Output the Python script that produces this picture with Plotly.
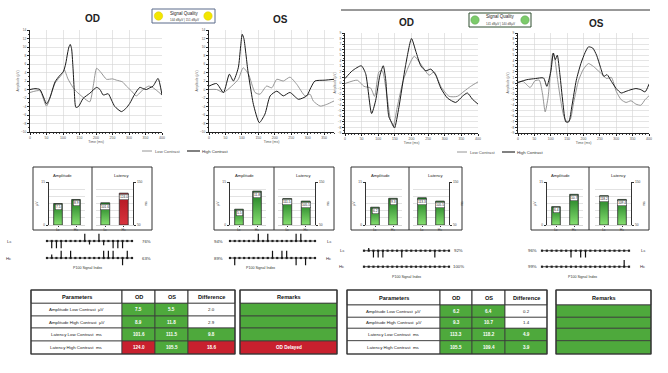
import plotly.graph_objects as go

W, H = 668, 373
FONT = "Liberation Sans, Arial, sans-serif"

# ---------------- data ----------------
# Waveforms: time (ms) and amplitude (uV)
L_OD_hc_t = [0, 15, 30, 42, 50, 60, 76, 90, 101, 108, 114, 118, 122, 126, 130, 134, 139, 147, 161, 181, 202, 212, 222, 237, 247, 257, 277, 290, 302, 318, 333, 343, 353, 363, 373, 388, 400]
L_OD_hc_v = [0.0, 0.2, 0.0, -2.0, -3.4, -2.0, 1.8, 3.3, 4.2, 6.0, 8.6, 10.0, 10.6, 9.6, 5.5, 0.0, -4.2, -4.0, -2.1, -0.9, 0.5, 0.0, -1.3, -1.0, -2.5, -4.0, -5.2, -4.5, -3.3, -1.0, 0.5, 0.2, 0.0, 0.4, 0.8, 2.6, -1.3]
L_OD_lc_t = [0, 30, 50, 76, 96, 104, 115, 130, 141, 160, 181, 192, 202, 215, 232, 250, 262, 280, 292, 307, 322, 343, 360, 373, 385, 400]
L_OD_lc_v = [-0.7, -0.3, -3.9, 1.5, 3.5, 4.6, 2.5, 0.5, -0.5, -1.8, -2.9, 1.0, 5.0, 4.0, 2.4, 2.5, 2.2, 1.8, 0.8, -0.3, -1.5, 0.0, 0.8, 0.4, -0.3, -1.3]

L_OS_hc_t = [0, 23, 44, 62, 74, 89, 96, 101, 106, 112, 118, 125, 135, 153, 170, 186, 206, 226, 246, 272, 297, 310, 322, 353, 380]
L_OS_hc_v = [0.8, 1.4, -0.7, 3.6, 2.0, 5.1, 10.0, 13.0, 12.0, 8.5, 4.5, 1.0, -3.5, -7.8, -5.8, -1.5, -0.4, -1.5, -0.7, -2.3, -1.5, 0.5, 2.0, 2.2, 2.4]
L_OS_lc_t = [0, 23, 44, 69, 89, 104, 120, 140, 155, 175, 191, 206, 226, 246, 267, 292, 307, 317, 338, 358, 380]
L_OS_lc_v = [0.0, 0.0, -0.7, 0.8, 2.4, 5.1, 3.6, -0.7, -1.1, 0.8, 0.4, 2.4, 2.0, 2.9, 1.2, -1.5, -1.1, -2.7, -3.9, -3.5, -2.7]

R_OD_hc_t = [0, 22, 49, 62, 80, 92, 105, 115, 122, 132, 142, 149, 162, 182, 200, 213, 228, 243, 258, 273, 288, 308, 333, 353, 368, 383, 400]
R_OD_hc_v = [0.8, 2.2, 3.1, 1.7, -5.5, -3.2, 1.4, 3.1, 0.8, -6.1, -7.3, -8.1, -4.4, 3.1, 8.0, 5.7, 3.1, 2.2, 2.5, 1.4, -0.9, -2.7, -3.5, -2.4, -1.8, -2.9, -3.8]
R_OD_lc_t = [0, 37, 57, 77, 89, 102, 112, 127, 137, 145, 157, 177, 208, 228, 253, 268, 288, 313, 338, 358, 378, 400]
R_OD_lc_v = [-0.1, 0.5, -0.6, -0.9, -2.4, 2.0, 2.2, -2.7, -6.7, -7.8, -4.4, 0.8, 4.8, 3.4, 1.4, 2.0, -0.6, -2.4, -2.4, -1.5, -0.6, 0.2]

R_OS_hc_t = [0, 27, 53, 78, 88, 100, 108, 114, 120, 128, 137, 146, 155, 165, 178, 192, 205, 215, 228, 240, 252, 262, 272, 285, 300, 315, 330, 345, 360, 375, 388, 400]
R_OS_hc_v = [0.1, 0.6, 0.8, 0.9, -0.6, 2.0, 5.4, 4.2, 5.0, 1.5, -3.5, -7.0, -7.0, -4.0, 0.5, 3.5, 5.5, 6.5, 6.3, 5.0, 2.8, 1.2, 1.5, 0.3, -1.0, -1.8, -1.5, -1.2, -1.0, -1.2, -1.6, -0.2]
R_OS_lc_t = [0, 15, 37, 52, 65, 75, 83, 92, 100, 106, 112, 120, 130, 140, 150, 160, 170, 185, 200, 215, 230, 245, 258, 270, 285, 300, 315, 330, 345, 360, 375, 388, 400]
R_OS_lc_v = [0.1, 0.3, -0.8, 0.4, 0.5, -2.0, -5.2, -2.5, 2.5, 5.3, 4.5, 1.0, -3.0, -6.0, -7.0, -6.5, -3.5, 0.5, 2.5, 3.5, 3.0, 2.2, 1.5, 0.8, 1.0, -1.5, -3.0, -3.5, -3.2, -3.8, -4.0, -3.0, -2.3]

# Table data
params = ["Amplitude Low Contrast  µV", "Amplitude High Contrast  µV",
          "Latency Low Contrast  ms", "Latency High Contrast  ms"]
col_heads = ["Parameters", "OD", "OS", "Difference"]
L_od = [7.5, 8.9, 101.6, 124.0]
L_os = [5.5, 11.8, 111.5, 105.5]
L_diff = [2.0, 2.9, 9.8, 18.6]
L_od_flag = ["g", "g", "g", "r"]
L_os_flag = ["g", "g", "g", "g"]
L_diff_flag = ["w", "w", "g", "r"]
L_remarks = ["", "", "", "OD Delayed"]
L_rem_flag = ["g", "g", "g", "r"]

R_od = [6.2, 9.3, 113.3, 105.5]
R_os = [6.4, 10.7, 118.2, 109.4]
R_diff = [0.2, 1.4, 4.9, 3.9]
R_od_flag = ["g", "g", "g", "g"]
R_os_flag = ["g", "g", "g", "g"]
R_diff_flag = ["w", "w", "g", "g"]
R_remarks = ["", "", "", ""]
R_rem_flag = ["g", "g", "g", "g"]

bar_cats = ["Lc", "Hc"]

# P100 signal index strips (+ up tick, - down tick, 0 dot)
L_OD_sig_lc = [0, -1, -1, -1, 0, 0, 0, 0, 1, -0.5, 0, 1, -0.6, 0, -1, -1, -1, 0, 0]
L_OD_sig_hc = [0, 0.5, 0, 1, 0, 1, 0, 0, 0, 0, 0, 0, 1, 1, 1, 0, -1, 1, 0]
L_OS_sig_lc = [0, 0, 0, 0, 0, 0, 1, 0, 1, 0, 0, 0, 0, 0, 1, 1, 0, 0, 0]
L_OS_sig_hc = [0, -1, 0, 0, 0, 0, 0, 0, 0, 1, 0, 1, 1, 0, -1, 0, -1, 0, 0]
R_OD_sig_lc = [0, 0.4, -1, -1, -1, 0, 0, 0, -1, 0, 0, 0, 0, 0, 0, -1, 0, 0, 0]
R_OD_sig_hc = [0, 0, 0, 0, 0, 0, 0, 0, 0, 0, 0, 0, 0, 0, 0, 0, 0, 0, 0]
R_OS_sig_lc = [0, 0, 0, 0, 0, 0, -1, 0, -1, -1, 0, 0, 0, 0, 0, 0, 0, 0, 0]
R_OS_sig_hc = [0, 0, 0, 0, 0, 0, 0, 0, 0, 0, 0, 0, 0, 0, 0, 0, 0, 1, 0]
sig_pct = {"L_OD": ("76%", "63%"), "L_OS": ("94%", "89%"),
           "R_OD": ("92%", "100%"), "R_OS": ("96%", "99%")}

L_quality = "144 dBµV | 151 dBµV"
R_quality = "141 dBµV | 140 dBµV"

# ---------------- styles ----------------
GREEN = "#4ea93c"
RED = "#c8202e"
FLAG = {"g": GREEN, "r": RED, "w": "white"}
LC_COLOR = "#8a8a8a"
HC_COLOR = "#1a1a1a"

fig = go.Figure()
layout = {}
annotations = []
shapes = []
count = [0]


def new_axes(x0, x1, y0, y1, xa, ya):
    count[0] += 1
    n = count[0]
    s = "" if n == 1 else str(n)
    xa = dict(xa)
    ya = dict(ya)
    xa.update(domain=[x0 / W, x1 / W], anchor="y" + s)
    ya.update(domain=[1 - y1 / H, 1 - y0 / H], anchor="x" + s)
    layout["xaxis" + s] = xa
    layout["yaxis" + s] = ya
    return "x" + s, "y" + s


def ann(x, y, text, size=4.5, color="#222", bold=False, xanchor="center",
        yanchor="middle", textangle=0):
    annotations.append(dict(x=x / W, y=1 - y / H, xref="paper", yref="paper",
                            text=f"<b>{text}</b>" if bold else text, showarrow=False,
                            font=dict(size=size, color=color, family=FONT),
                            xanchor=xanchor, yanchor=yanchor, textangle=textangle,
                            borderpad=0))


def rect(x0, y0, x1, y1, line="#333", fill=None, width=1):
    shapes.append(dict(type="rect", xref="paper", yref="paper",
                       x0=x0 / W, x1=x1 / W, y0=1 - y1 / H, y1=1 - y0 / H,
                       line=dict(color=line, width=width),
                       fillcolor=fill if fill else "rgba(0,0,0,0)"))


def hline(x0, x1, y, color="#333", width=1):
    shapes.append(dict(type="line", xref="paper", yref="paper",
                       x0=x0 / W, x1=x1 / W, y0=1 - y / H, y1=1 - y / H,
                       line=dict(color=color, width=width)))


def vline(x, y0, y1, color="#333", width=1):
    shapes.append(dict(type="line", xref="paper", yref="paper",
                       x0=x / W, x1=x / W, y0=1 - y1 / H, y1=1 - y0 / H,
                       line=dict(color=color, width=width)))


def circle(cx, cy, r, fill, line="#999"):
    shapes.append(dict(type="circle", xref="paper", yref="paper",
                       x0=(cx - r) / W, x1=(cx + r) / W, y0=1 - (cy + r) / H, y1=1 - (cy - r) / H,
                       line=dict(color=line, width=0.5), fillcolor=fill))


# ---------------- waveforms ----------------
def waveform(x0, x1, y0, y1, xmax, yr, dt, hc, lc):
    xa = dict(range=[0, xmax], dtick=50, tick0=0, showgrid=True, gridcolor="#d4d4d4",
              gridwidth=0.6, showline=True, linecolor="#222", linewidth=1, ticks="outside",
              ticklen=2, tickcolor="#222", tickfont=dict(size=3.5, color="#555", family=FONT),
              title=dict(text="Time (ms)", font=dict(size=3.5, color="#555", family=FONT), standoff=1),
              zeroline=False, minor=dict(dtick=10, ticks="outside", ticklen=1, tickcolor="#444"))
    ya = dict(range=yr, dtick=dt, showgrid=True, gridcolor="#d4d4d4", gridwidth=0.6,
              showline=True, linecolor="#222", linewidth=1, ticks="outside", ticklen=2,
              tickcolor="#222", tickfont=dict(size=3.2, color="#555", family=FONT),
              title=dict(text="Amplitude (µV)", font=dict(size=3.2, color="#555", family=FONT), standoff=1),
              zeroline=False, minor=dict(dtick=dt / 2, ticks="outside", ticklen=1, tickcolor="#444"))
    xr, yrr = new_axes(x0, x1, y0, y1, xa, ya)
    fig.add_trace(go.Scatter(x=lc[0], y=lc[1], mode="lines",
                             line=dict(color=LC_COLOR, width=0.9, shape="spline", smoothing=0.6),
                             xaxis=xr, yaxis=yrr, showlegend=False, name="Low Contrast"))
    fig.add_trace(go.Scatter(x=hc[0], y=hc[1], mode="lines",
                             line=dict(color=HC_COLOR, width=1.0, shape="spline", smoothing=0.6),
                             xaxis=xr, yaxis=yrr, showlegend=False, name="High Contrast"))


waveform(30, 162, 30, 132, 400, [-10, 14], 2, (L_OD_hc_t, L_OD_hc_v), (L_OD_lc_t, L_OD_lc_v))
waveform(209, 334, 30, 132, 380, [-10, 14], 2, (L_OS_hc_t, L_OS_hc_v), (L_OS_lc_t, L_OS_lc_v))
waveform(345, 478, 33, 133, 400, [-9, 9], 1, (R_OD_hc_t, R_OD_hc_v), (R_OD_lc_t, R_OD_lc_v))
waveform(518, 649, 33, 133, 400, [-9, 9], 1, (R_OS_hc_t, R_OS_hc_v), (R_OS_lc_t, R_OS_lc_v))

# legends (drawn)
for (lx, ly) in [(142, 151), (457, 152)]:
    hline(lx, lx + 10, ly, LC_COLOR, 0.9)
    ann(lx + 12, ly, "Low Contrast", 4.2, "#555", xanchor="left")
    hline(lx + 45, lx + 58, ly, HC_COLOR, 1.1)
    ann(lx + 59, ly, "High Contrast", 4.2, "#333", xanchor="left")

# titles
ann(92, 18, "OD", 10, "#222", bold=True)
ann(280, 19, "OS", 10, "#222", bold=True)
ann(407, 22, "OD", 10, "#222", bold=True)
ann(596, 23, "OS", 10, "#222", bold=True)

# top rule of right half
hline(341, 650, 10, "#333", 1)

# signal quality boxes
rect(152, 9, 215, 23, line="#5a6a8a", fill="white", width=1)
circle(158.5, 16, 4.2, "#f3e600", "#d8c800")
circle(208, 16, 4.2, "#f3e600", "#d8c800")
ann(184, 13.3, "Signal Quality", 4.5, "#222")
ann(184, 19.5, L_quality, 3, "#444")
rect(469, 13, 531, 27, line="#2f4f2f", fill="white", width=1)
circle(475, 20, 4.2, "#7ccb6a", "#5aa050")
circle(525, 20, 4.2, "#7ccb6a", "#5aa050")
ann(500, 16.3, "Signal Quality", 4.5, "#222")
ann(500, 23.5, R_quality, 3, "#444")

# ---------------- bar panels ----------------
panels = [
    dict(box=(33, 92, 152), amp=(49, 85), lat=(96, 133), vals=L_od, flags=L_od_flag),
    dict(box=(214, 274, 334), amp=(230, 266), lat=(278, 315), vals=L_os, flags=L_os_flag),
    dict(box=(351, 409, 462), amp=(366, 402), lat=(413, 449), vals=R_od, flags=R_od_flag),
    dict(box=(531, 589, 649), amp=(547, 583), lat=(595, 631), vals=R_os, flags=R_os_flag),
]

GRAD = {"g": [[0, "#86e070"], [1, "#1c7a20"]], "r": [[0, "#d8333d"], [1, "#b01521"]]}
BW = 0.24


def bar_axes(x0, x1, yrange, title, side):
    xa = dict(range=[-0.5, 1.5], tickvals=[0, 1], ticktext=bar_cats, ticks="outside", ticklen=1.5,
              tickcolor="#333", tickfont=dict(size=3.5, color="#444", family=FONT),
              showline=True, linecolor="#bbb", linewidth=0.6, showgrid=False, zeroline=False, fixedrange=True)
    span = yrange[1] - yrange[0]
    ya = dict(range=yrange, tickvals=yrange, side=side, ticks="outside", ticklen=2, tickcolor="#333",
              tickfont=dict(size=3.3, color="#444", family=FONT), showline=True, linecolor="#333",
              linewidth=1.3, showgrid=True, gridcolor="#cfcfcf", gridwidth=0.6, zeroline=False,
              minor=dict(dtick=span / 6, showgrid=True, gridcolor="#cfcfcf", gridwidth=0.6, ticks=""),
              title=dict(text=title, font=dict(size=3.5, color="#444", family=FONT), standoff=3))
    return new_axes(x0, x1, 182, 225, xa, ya)


def draw_bars(xr, yr, vals, flags, base):
    for i, (v, f) in enumerate(zip(vals, flags)):
        fig.add_trace(go.Scatter(
            x=[i - BW, i - BW, i + BW, i + BW, i - BW], y=[base, v, v, base, base],
            mode="lines", fill="toself", line=dict(color="#2a2a2a", width=0.8),
            fillgradient=dict(type="vertical", colorscale=GRAD[f]),
            xaxis=xr, yaxis=yr, showlegend=False, hoverinfo="skip", name=bar_cats[i]))
        annotations.append(dict(x=i, y=v, xref=xr, yref=yr, text=f"{v:.1f}", showarrow=False,
                                yanchor="top", yshift=-0.8, bgcolor="white", bordercolor="#333",
                                borderwidth=0.5, borderpad=0.4,
                                font=dict(size=3.3, color="#222", family=FONT)))


for p in panels:
    bl, dv, br = p["box"]
    rect(bl, 167, br, 230, line="#333", width=1)
    vline(dv, 167, 230, "#333", 1)
    ann((bl + dv) / 2, 175, "Amplitude", 4.2, "#222")
    ann((dv + br) / 2, 175, "Latency", 4.2, "#222")
    xr, yr = bar_axes(p["amp"][0], p["amp"][1], [0, 15], "µV", "left")
    draw_bars(xr, yr, p["vals"][:2], p["flags"][:2], 0)
    xr, yr = bar_axes(p["lat"][0], p["lat"][1], [50, 150], "ms", "right")
    draw_bars(xr, yr, p["vals"][2:], p["flags"][2:], 50)

# ---------------- signal index strips ----------------
strips = [
    dict(key="L_OD", x=(47, 132), y=241, sep=17, lc=L_OD_sig_lc, hc=L_OD_sig_hc,
         lab_x=9, pct_x=146, title=(87, 268)),
    dict(key="L_OS", x=(230, 315), y=241, sep=17, lc=L_OS_sig_lc, hc=L_OS_sig_hc,
         lab_x=329, pct_x=218, title=(260, 268)),
    dict(key="R_OD", x=(364, 449), y=250.7, sep=16, lc=R_OD_sig_lc, hc=R_OD_sig_hc,
         lab_x=342, pct_x=458, title=(406, 277)),
    dict(key="R_OS", x=(542, 629), y=250.7, sep=16, lc=R_OS_sig_lc, hc=R_OS_sig_hc,
         lab_x=643, pct_x=532, title=(582, 277)),
]

for s in strips:
    n = len(s["lc"])
    top = s["y"] - s["sep"] / 2
    xa = dict(range=[0, n - 1], visible=False, fixedrange=True)
    ya = dict(range=[-0.5, 1.5], visible=False, fixedrange=True)
    xr, yr = new_axes(s["x"][0], s["x"][1], top, top + 2 * s["sep"], xa, ya)
    for row, arr in [(1, s["lc"]), (0, s["hc"])]:
        fig.add_trace(go.Scatter(x=[0, n - 1], y=[row, row], mode="lines", line=dict(color="#222", width=0.8),
                                 xaxis=xr, yaxis=yr, showlegend=False, hoverinfo="skip", cliponaxis=False))
        fig.add_trace(go.Scatter(x=list(range(n)), y=[row] * n, mode="markers",
                                 marker=dict(size=2.2, color="#222", symbol="square"),
                                 xaxis=xr, yaxis=yr, showlegend=False, hoverinfo="skip", cliponaxis=False))
        tx, ty = [], []
        for i, v in enumerate(arr):
            if v != 0:
                tx += [i, i, None]
                ty += [row, row + 0.42 * v, None]
        fig.add_trace(go.Scatter(x=tx, y=ty, mode="lines", line=dict(color="#111", width=1.2),
                                 xaxis=xr, yaxis=yr, showlegend=False, hoverinfo="skip", cliponaxis=False))
    pl, ph = sig_pct[s["key"]]
    ann(s["lab_x"], s["y"], "Lc", 4.3, "#333")
    ann(s["lab_x"], s["y"] + s["sep"], "Hc", 4.3, "#333")
    ann(s["pct_x"], s["y"], pl, 4.3, "#333")
    ann(s["pct_x"], s["y"] + s["sep"], ph, 4.3, "#333")
    ann(s["title"][0], s["title"][1], "P100 Signal Index", 3.6, "#333")


# ---------------- tables (drawn as cells) ----------------
def fmt(vals):
    return [f"{v:.1f}" for v in vals]


def draw_table(col_edges, row_edges, heads, columns, flags):
    for c, head in enumerate(heads):
        x0, x1 = col_edges[c], col_edges[c + 1]
        rect(x0, row_edges[0], x1, row_edges[1], line="#333", fill="white", width=1)
        ann((x0 + x1) / 2, (row_edges[0] + row_edges[1]) / 2, head, 5.6, "#111", bold=True)
        for r in range(len(columns[c])):
            y0, y1 = row_edges[r + 1], row_edges[r + 2]
            f = flags[c][r] if flags[c] is not None else "w"
            rect(x0, y0, x1, y1, line="#3a3a3a", fill=FLAG[f], width=0.8)
            txt = columns[c][r]
            if txt:
                colored = f != "w"
                ann((x0 + x1) / 2, (y0 + y1) / 2, txt, 4.6 if colored else 4.4,
                    "white" if colored else "#222", bold=colored)
    rect(col_edges[0], row_edges[0], col_edges[-1], row_edges[-1], line="#333", width=1.2)


L_rows = [290, 303.3, 316, 328, 341, 354]
R_rows = [290, 305, 317.3, 328.3, 340.7, 354]
draw_table([31, 122, 155, 188, 235], L_rows, col_heads,
           [params, fmt(L_od), fmt(L_os), fmt(L_diff)],
           [None, L_od_flag, L_os_flag, L_diff_flag])
draw_table([240, 337], L_rows, ["Remarks"], [L_remarks], [L_rem_flag])
draw_table([347, 440, 472, 505, 547], R_rows, col_heads,
           [params, fmt(R_od), fmt(R_os), fmt(R_diff)],
           [None, R_od_flag, R_os_flag, R_diff_flag])
draw_table([556, 651], R_rows, ["Remarks"], [R_remarks], [R_rem_flag])

layout.update(width=W, height=H, margin=dict(l=0, r=0, t=0, b=0), template="none",
              paper_bgcolor="white", plot_bgcolor="white", showlegend=False,
              annotations=annotations, shapes=shapes, font=dict(family=FONT))
fig.update_layout(**layout)
fig.write_html("out.html", config={"displayModeBar": False, "staticPlot": True},
               post_script="document.body.style.margin='0px';document.body.style.overflow='hidden';")
